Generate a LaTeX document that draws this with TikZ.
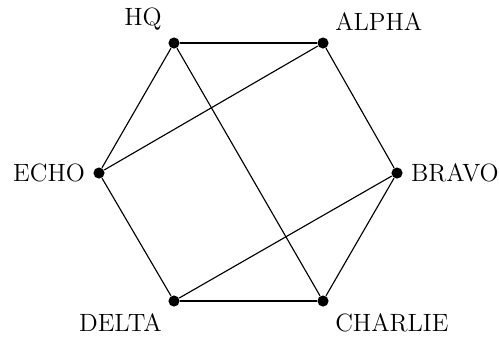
\documentclass[tikz,border=0pt]{standalone}
\usetikzlibrary{positioning}
\tikzset{
  net dot/.style={circle, fill=black, inner sep=0pt, minimum size=4.9pt},
  net link/.style={draw=black, line width=0.5pt},
  net label/.style={font=\fontsize{11}{13}\selectfont, text=black}
}
\begin{document}
\begin{tikzpicture}[x=0.44pt, y=-0.44pt, every label/.style={net label}]
  \useasboundingbox (0,0) rectangle (499,338);
  \node[net dot, label={above left:HQ}] (hq) at (174,43) {};
  \node[net dot, label={above right:ALPHA}] (alpha) at (323,43) {};
  \node[net dot, label={right:BRAVO}] (bravo) at (397,173) {};
  \node[net dot, label={below right:CHARLIE}] (charlie) at (323,301) {};
  \node[net dot, label={below left:DELTA}] (delta) at (174,301) {};
  \node[net dot, label={left:ECHO}] (echo) at (99,173) {};
  % ring
  \draw[net link] (hq)--(alpha);
  \draw[net link] (alpha)--(bravo);
  \draw[net link] (bravo)--(charlie);
  \draw[net link] (charlie)--(delta);
  \draw[net link] (delta)--(echo);
  \draw[net link] (echo)--(hq);
  % cross links
  \draw[net link] (hq)--(charlie);
  \draw[net link] (alpha)--(echo);
  \draw[net link] (bravo)--(delta);
\end{tikzpicture}
\end{document}
